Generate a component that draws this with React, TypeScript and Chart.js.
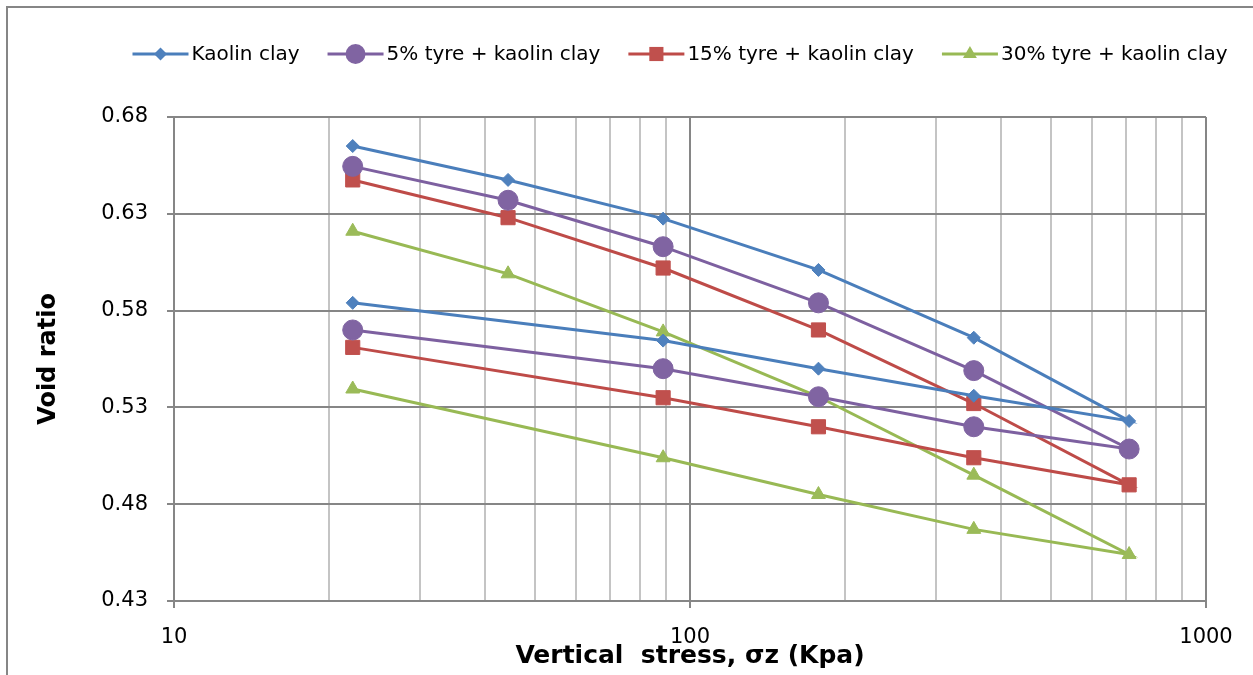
import React, { useEffect, useRef } from 'react';
import { Chart, registerables } from 'chart.js';

Chart.register(...registerables);

// ---------- data ----------
const seriesNames = [
  'Kaolin clay',
  '5% tyre + kaolin clay',
  '15% tyre + kaolin clay',
  '30% tyre + kaolin clay',
];
const loadingStress = [22.2, 44.4, 88.7, 177.4, 354.8, 709.6];
const unloadingStress = [354.8, 177.4, 88.7, 22.2];

const kaolinLoading = [0.665, 0.6475, 0.6275, 0.601, 0.566, 0.523];
const kaolinUnloading = [0.536, 0.55, 0.5645, 0.584];
const tyre5Loading = [0.6545, 0.637, 0.613, 0.584, 0.549, 0.5085];
const tyre5Unloading = [0.52, 0.5355, 0.55, 0.57];
const tyre15Loading = [0.6475, 0.628, 0.602, 0.57, 0.532, 0.49];
const tyre15Unloading = [0.504, 0.52, 0.535, 0.561];
const tyre30Loading = [0.621, 0.599, 0.569, 0.5355, 0.495, 0.454];
const tyre30Unloading = [0.467, 0.485, 0.504, 0.5395];

const yTickValues = [0.43, 0.48, 0.53, 0.58, 0.63, 0.68];
const xMajorTicks = [10, 100, 1000];

const xTitle = 'Vertical  stress, σz (Kpa)';
const yTitle = 'Void ratio';

// ---------- styles ----------
const lineColors = ['#4A7EBB', '#7D60A0', '#BE4B48', '#98B954'];
const markerColors = ['#4F81BD', '#8064A2', '#C0504D', '#9BBB59'];
const pointStyles = ['rectRot', 'circle', 'rect', 'triangle'];
const pointRadii = [6.5, 10, 10, 8];
const FONT = '"DejaVu Sans", sans-serif';
const MAJOR_GRID = '#868686';
const MINOR_GRID = '#C4C4C4';

const loadSets = [kaolinLoading, tyre5Loading, tyre15Loading, tyre30Loading];
const unloadSets = [kaolinUnloading, tyre5Unloading, tyre15Unloading, tyre30Unloading];

function buildPoints(load: number[], unload: number[]) {
  const a = loadingStress.map((x, i) => ({ x, y: load[i] }));
  const b = unloadingStress.map((x, i) => ({ x, y: unload[i] }));
  return a.concat(b);
}

function isMajor(v: number) {
  return xMajorTicks.some((m) => Math.abs(m - v) < 1e-6);
}

function drawMarker(ctx: CanvasRenderingContext2D, style: string, x: number, y: number, r: number) {
  ctx.beginPath();
  if (style === 'rectRot') {
    ctx.moveTo(x - r, y);
    ctx.lineTo(x, y - r);
    ctx.lineTo(x + r, y);
    ctx.lineTo(x, y + r);
    ctx.closePath();
  } else if (style === 'circle') {
    ctx.arc(x, y, r, 0, Math.PI * 2);
  } else if (style === 'rect') {
    const s = Math.SQRT1_2 * r;
    ctx.rect(x - s, y - s, 2 * s, 2 * s);
  } else if (style === 'triangle') {
    ctx.moveTo(x, y - r);
    ctx.lineTo(x + r * Math.sin((2 * Math.PI) / 3), y - r * Math.cos((2 * Math.PI) / 3));
    ctx.lineTo(x + r * Math.sin((4 * Math.PI) / 3), y - r * Math.cos((4 * Math.PI) / 3));
    ctx.closePath();
  }
  ctx.fill();
}

const framePlugin = {
  id: 'frame',
  beforeDraw(chart: any) {
    const { ctx, width, height } = chart;
    ctx.save();
    ctx.fillStyle = '#ffffff';
    ctx.fillRect(0, 0, width, height);
    ctx.strokeStyle = MAJOR_GRID;
    ctx.lineWidth = 2;
    ctx.beginPath();
    ctx.moveTo(7, height);
    ctx.lineTo(7, 7);
    ctx.lineTo(width, 7);
    ctx.stroke();
    ctx.restore();
  },
};

const legendPlugin = {
  id: 'customLegend',
  afterDraw(chart: any) {
    const ctx: CanvasRenderingContext2D = chart.ctx;
    ctx.save();
    ctx.font = `20px ${FONT}`;
    ctx.textBaseline = 'middle';
    ctx.textAlign = 'left';
    const lineLen = 56;
    const textGap = 3;
    const itemGap = 28;
    const centerX = 680;
    const y = 54;
    const widths = seriesNames.map((n) => ctx.measureText(n).width);
    const total =
      widths.reduce((a, w) => a + lineLen + textGap + w, 0) + itemGap * (seriesNames.length - 1);
    let x = centerX - total / 2;
    seriesNames.forEach((name, i) => {
      ctx.strokeStyle = lineColors[i];
      ctx.lineWidth = 3;
      ctx.beginPath();
      ctx.moveTo(x, y);
      ctx.lineTo(x + lineLen, y);
      ctx.stroke();
      ctx.fillStyle = markerColors[i];
      drawMarker(ctx, pointStyles[i], x + lineLen / 2, y, pointRadii[i]);
      ctx.fillStyle = '#000000';
      ctx.fillText(name, x + lineLen + textGap, y + 1);
      x += lineLen + textGap + widths[i] + itemGap;
    });
    ctx.restore();
  },
};

export default function App() {
  const canvasRef = useRef<HTMLCanvasElement | null>(null);

  useEffect(() => {
    if (!canvasRef.current) return;
    const datasets = seriesNames.map((name, i) => ({
      label: name,
      data: buildPoints(loadSets[i], unloadSets[i]),
      showLine: true,
      borderColor: lineColors[i],
      borderWidth: 3,
      backgroundColor: markerColors[i],
      pointBackgroundColor: markerColors[i],
      pointBorderColor: markerColors[i],
      pointBorderWidth: 1,
      pointStyle: pointStyles[i],
      pointRadius: pointRadii[i],
      pointHoverRadius: pointRadii[i],
      tension: 0,
    }));

    const chart = new Chart(canvasRef.current, {
      type: 'scatter',
      data: { datasets },
      options: {
        animation: false,
        responsive: false,
        events: [],
        layout: { padding: { left: 34, right: 47, top: 117, bottom: 4 } },
        plugins: {
          legend: { display: false },
          tooltip: { enabled: false },
        },
        scales: {
          x: {
            type: 'logarithmic',
            min: 10,
            max: 1000,
            afterBuildTicks: (scale: any) => {
              const vals: number[] = [];
              for (let d = 10; d < 1000; d *= 10) {
                for (let k = 1; k <= 9; k++) vals.push(d * k);
              }
              vals.push(1000);
              scale.ticks = vals.map((v) => ({ value: v }));
            },
            afterFit: (scale: any) => {
              scale.height = 70;
            },
            ticks: {
              autoSkip: false,
              maxRotation: 0,
              minRotation: 0,
              padding: 17,
              color: '#000000',
              font: { family: FONT, size: 21 },
              callback: (v: any) => (isMajor(Number(v)) ? String(Math.round(Number(v))) : ''),
            },
            grid: {
              color: (c: any) => (isMajor(c.tick?.value) ? MAJOR_GRID : MINOR_GRID),
              tickColor: (c: any) => (isMajor(c.tick?.value) ? MAJOR_GRID : 'rgba(0,0,0,0)'),
              lineWidth: 2,
              tickLength: 7,
              drawTicks: true,
            },
            border: { color: MAJOR_GRID, width: 2 },
            title: {
              display: true,
              text: xTitle,
              color: '#000000',
              font: { family: FONT, size: 25, weight: 'bold' },
              padding: 0,
            },
          },
          y: {
            type: 'linear',
            min: 0.43,
            max: 0.68,
            afterBuildTicks: (scale: any) => {
              scale.ticks = yTickValues.map((v) => ({ value: v }));
            },
            afterFit: (scale: any) => {
              scale.width = 140;
            },
            ticks: {
              padding: 19,
              color: '#000000',
              font: { family: FONT, size: 21 },
              callback: (v: any) => Number(v).toFixed(2),
            },
            grid: {
              color: MAJOR_GRID,
              lineWidth: 2,
              tickLength: 7,
            },
            border: { color: MAJOR_GRID, width: 2 },
            title: {
              display: true,
              text: yTitle,
              color: '#000000',
              font: { family: FONT, size: 24, weight: 'bold' },
              padding: 0,
            },
          },
        },
      },
      plugins: [framePlugin, legendPlugin],
    } as any);

    return () => {
      chart.destroy();
    };
  }, []);

  return (
    <div style={{ position: 'absolute', left: 0, top: 0, width: 1253, height: 675 }}>
      <canvas ref={canvasRef} width={1253} height={675} style={{ display: 'block' }} />
    </div>
  );
}
